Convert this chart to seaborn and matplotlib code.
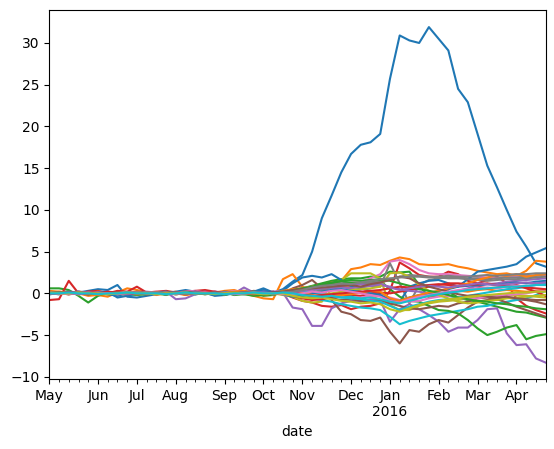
import pandas as pd
import matplotlib
matplotlib.use("Agg")
import matplotlib.pyplot as plt
import matplotlib.dates as mdates
from matplotlib.ticker import FixedLocator
import seaborn as sns

# weekly dates (week ending Sunday)
dates = pd.date_range("2015-05-03", "2016-04-24", freq="W-SUN")

# series values, one list per column
s00 = [0.0, 0.1, 0.2, 0.1, 0.3, 0.5, 0.4, 1.0, -0.4, -0.5,
       -0.3, -0.1, 0.1, 0.2, 0.4, 0.2, 0.1, -0.3, -0.2, 0.0,
       0.1, 0.2, 0.6, 0.1, 0.5, 1.4, 2.2, 5.0, 9.0, 11.7,
       14.5, 16.7, 17.8, 18.1, 19.1, 25.7, 30.9, 30.3, 30.0, 31.9,
       30.5, 29.1, 24.5, 22.9, 19.1, 15.3, 12.7, 10.0, 7.4, 5.6,
       3.6, 3.2]
s01 = [0.3, 0.2, 0.1, 0.0, -0.3, -0.2, -0.4, 0.1, 0.6, 0.4,
       0.1, -0.2, 0.0, 0.2, -0.2, 0.1, 0.2, 0.1, 0.3, 0.4,
       0.0, -0.3, -0.6, -0.7, 1.7, 2.3, 0.8, 0.3, 0.9, 1.2,
       1.5, 2.9, 3.1, 3.5, 3.4, 3.9, 4.3, 4.1, 3.5, 3.4,
       3.4, 3.5, 3.2, 3.0, 2.7, 2.5, 2.3, 2.4, 2.1, 2.7,
       3.9, 3.8]
s02 = [0.6, 0.6, 0.4, -0.3, -1.1, -0.3, 0.1, 0.0, -0.1, -0.2,
       -0.1, 0.0, -0.2, 0.1, 0.0, -0.1, 0.2, 0.0, -0.2, 0.1,
       0.3, 0.1, -0.3, -0.2, 0.1, 0.4, 0.6, 0.9, 1.2, 1.5,
       1.7, 1.8, 1.8, 2.0, 2.0, 2.6, 2.5, 2.6, 1.0, -0.5,
       -0.3, 0.2, -0.5, -0.8, -1.0, -1.3, -1.6, -1.9, -2.2, -2.3,
       -2.6, -2.9]
s03 = [-0.8, -0.7, 1.5, 0.0, 0.2, 0.3, 0.0, 0.3, 0.2, 0.8,
       0.1, 0.2, 0.3, 0.1, 0.2, 0.3, 0.4, 0.2, 0.0, -0.1,
       0.1, 0.0, 0.2, 0.1, 0.0, -0.5, -0.9, -1.1, -1.5, -1.6,
       -1.4, -1.9, -1.6, -1.5, -1.2, 0.3, 3.7, 3.0, 2.2, 2.0,
       2.0, 2.6, 2.3, 1.5, 1.2, 1.6, 2.0, 1.2, -0.6, -1.5,
       -2.0, -2.4]
s04 = [0.0, -0.1, 0.2, 0.1, 0.0, 0.1, 0.2, 0.0, -0.1, 0.1,
       0.2, 0.1, 0.2, -0.7, -0.6, -0.1, 0.0, 0.2, 0.1, 0.0,
       0.7, 0.1, -0.1, 0.0, 0.1, -1.7, -1.9, -3.9, -3.9, -1.8,
       -1.2, -0.9, -1.0, -0.7, -0.8, -3.4, -1.9, -1.3, -1.9, -2.6,
       -3.4, -4.6, -4.1, -4.1, -3.2, -1.9, -1.8, -4.8, -6.2, -6.1,
       -7.8, -8.3]
s05 = [0.1, 0.0, -0.1, 0.2, 0.1, 0.0, 0.1, -0.1, 0.0, 0.2,
       0.1, 0.0, -0.1, 0.1, 0.2, 0.0, 0.1, 0.0, 0.2, 0.1,
       0.0, 0.3, 0.2, 0.1, -0.1, 0.6, 1.0, 1.6, 0.6, -0.8,
       -2.2, -2.5, -3.2, -3.3, -2.9, -4.6, -6.0, -4.4, -4.6, -3.7,
       -3.2, -3.5, -2.6, -1.7, -1.0, -0.8, -0.6, -0.5, -0.7, -0.8,
       -1.0, -1.3]
s06 = [0.0, 0.1, 0.0, 0.2, 0.1, 0.0, -0.1, 0.1, 0.2, 0.0,
       0.1, 0.2, 0.0, 0.1, 0.2, 0.3, 0.1, 0.2, 0.1, 0.3,
       0.2, 0.1, 0.0, 0.2, 0.3, 0.4, 0.6, 0.8, 1.0, 1.2,
       1.1, 1.3, 1.4, 1.8, 2.3, 3.8, 4.0, 3.5, 2.8, 2.4,
       2.3, 2.3, 2.2, 2.1, 2.0, 1.9, 1.8, 2.0, 2.0, 2.1,
       2.1, 2.2]
s07 = [0.0, -0.1, 0.1, 0.0, 0.1, 0.0, 0.0, -0.1, 0.1, 0.0,
       -0.1, 0.0, 0.1, 0.0, -0.1, 0.0, 0.1, 0.0, -0.1, 0.0,
       0.1, 0.0, 0.0, 0.1, 0.0, -0.3, -0.4, 0.0, 0.3, 0.7,
       0.8, 0.8, 0.7, 0.9, 0.8, 3.6, 1.2, -1.2, 1.0, 1.6,
       1.8, 1.9, 1.9, 1.8, 1.8, 1.7, 1.8, 1.9, 1.9, 2.0,
       2.1, 2.3]
s08 = [0.1, 0.0, 0.1, -0.1, 0.0, 0.1, 0.0, 0.1, 0.0, -0.1,
       0.0, 0.1, -0.1, 0.0, 0.1, 0.0, -0.1, 0.1, 0.0, 0.1,
       0.0, 0.2, 0.1, 0.0, -0.2, -0.4, -0.9, -1.1, -1.0, 0.5,
       1.6, 2.4, 2.4, 2.4, 1.8, -1.4, -2.0, -2.0, -1.5, -1.2,
       -1.0, -0.9, -0.8, -0.6, -0.5, -0.4, -0.3, -0.3, -0.2, -0.3,
       -0.4, -0.5]
s09 = [-0.1, 0.0, 0.1, 0.0, -0.1, 0.0, 0.1, 0.0, -0.1, 0.0,
       0.1, 0.0, 0.0, 0.1, 0.0, -0.1, 0.0, 0.1, 0.0, -0.1,
       0.0, 0.1, 0.0, -0.1, 0.0, -0.2, -0.4, -0.6, -0.8, -1.0,
       -1.3, -1.5, -1.7, -1.8, -2.0, -2.8, -3.7, -3.3, -3.0, -2.7,
       -2.5, -2.3, -2.1, -1.9, -1.6, -1.5, -1.2, -1.0, -0.8, -0.6,
       -0.2, 0.3]
s10 = [0.2, 0.0, 0.1, 0.2, 0.0, 0.1, -0.1, -0.3, 0.0, 0.1,
       0.0, 0.1, 0.2, 0.0, 0.1, 0.2, 0.0, 0.1, 0.0, 0.1,
       0.0, 0.2, 0.4, 0.1, 0.3, 1.2, 1.9, 2.1, 1.9, 2.3,
       1.6, 0.8, 0.6, 0.3, 0.0, -0.8, -1.0, 0.8, 1.2, 1.5,
       1.6, 1.2, 0.8, 1.7, 2.6, 2.8, 3.0, 3.2, 3.5, 4.4,
       4.9, 5.4]
s11 = [0.0, 0.2, 0.1, -0.1, 0.0, 0.2, 0.1, 0.0, -0.2, 0.1,
       0.0, -0.1, 0.1, 0.0, -0.2, 0.0, 0.1, -0.1, 0.0, 0.2,
       0.3, 0.0, -0.2, 0.0, 0.3, 0.5, 0.6, 0.8, 1.0, 1.3,
       1.0, 0.6, 0.2, -0.3, -0.8, -1.3, -1.1, -0.8, -0.5, -0.3,
       -0.1, 0.1, 0.3, 0.2, 0.4, 0.5, 0.3, 0.4, 0.3, 0.2,
       0.3, 0.4]
s12 = [0.1, 0.0, -0.1, 0.0, 0.1, 0.0, -0.1, 0.0, 0.1, 0.0,
       -0.1, 0.0, 0.1, 0.0, 0.0, 0.1, -0.1, 0.0, 0.1, -0.2,
       -0.1, -0.3, -0.2, 0.1, 0.2, 0.3, 0.5, 0.7, 0.9, 1.2,
       1.4, 1.3, 1.2, 1.3, 1.5, 0.5, -0.4, -0.9, -1.0, -1.5,
       -2.0, -2.1, -2.4, -3.2, -4.2, -5.0, -4.6, -4.1, -3.8, -5.5,
       -5.1, -4.9]
s13 = [0.0, 0.1, -0.1, 0.0, 0.2, 0.1, 0.0, 0.1, -0.1, 0.0,
       0.1, 0.0, -0.1, 0.1, 0.0, 0.2, 0.1, 0.0, 0.1, 0.0,
       -0.1, 0.0, 0.1, 0.2, 0.0, -0.3, -0.6, -0.8, -0.7, -0.5,
       -0.4, -0.2, -0.3, 0.0, 0.1, 0.0, 0.2, 0.4, 0.6, 0.8,
       1.0, 1.2, 1.2, 1.1, 0.8, 0.6, 0.7, 0.8, 1.0, 0.6,
       0.2, -0.3]
s14 = [0.1, 0.0, 0.1, 0.2, 0.0, -0.1, 0.0, 0.1, 0.0, 0.1,
       0.0, -0.1, 0.0, 0.1, 0.0, 0.1, 0.2, 0.0, 0.1, 0.0,
       0.1, 0.0, 0.2, 0.1, 0.0, 0.3, 0.2, 0.4, 0.5, 0.6,
       0.7, 0.6, 0.8, 0.9, 1.0, 0.8, 0.5, 0.3, 0.2, 0.0,
       -0.2, 0.0, 0.3, 0.6, 0.9, 1.1, 1.2, 1.4, 1.5, 1.6,
       1.7, 1.8]
s15 = [-0.1, 0.0, 0.1, 0.0, -0.1, 0.0, 0.1, 0.0, 0.0, -0.1,
       0.0, 0.1, 0.0, -0.1, 0.0, 0.1, 0.0, 0.0, -0.1, 0.0,
       0.1, 0.0, -0.1, 0.0, 0.1, -0.2, -0.3, -0.5, -0.4, -0.6,
       -0.8, -0.7, -0.9, -1.0, -0.8, -1.2, -1.5, -1.8, -1.9, -1.7,
       -1.5, -1.6, -1.2, -1.0, -0.6, -0.5, -0.7, -1.1, -1.6, -2.0,
       -2.4, -2.8]
s16 = [0.0, 0.0, 0.1, -0.1, 0.0, 0.1, 0.0, -0.1, 0.0, 0.1,
       0.0, 0.1, 0.0, 0.0, 0.1, -0.1, 0.0, 0.1, 0.0, 0.0,
       0.1, 0.0, 0.0, -0.1, 0.1, 0.2, 0.3, 0.2, 0.0, -0.2,
       -0.4, -0.6, -0.5, -0.3, -0.2, -0.5, -0.8, -1.0, -0.9, -0.6,
       -0.4, -0.3, -0.5, -0.7, -0.6, -0.4, -0.3, -0.2, -0.1, 0.0,
       0.2, 0.3]
s17 = [0.1, 0.0, 0.0, 0.1, 0.0, -0.1, 0.0, 0.0, 0.1, 0.0,
       0.0, -0.1, 0.0, 0.1, 0.0, 0.0, -0.1, 0.0, 0.1, 0.0,
       0.0, 0.1, 0.0, -0.1, 0.0, -0.2, -0.1, 0.1, 0.4, 0.8,
       1.0, 1.1, 1.1, 1.3, 1.4, 1.6, 2.0, 2.2, 2.1, 2.0,
       1.9, 1.8, 1.8, 1.7, 1.6, 1.5, 1.6, 1.7, 1.7, 1.8,
       1.9, 2.0]
s18 = [0.0, 0.1, 0.0, -0.1, 0.0, 0.0, 0.1, 0.0, -0.1, 0.0,
       0.1, 0.0, 0.0, -0.1, 0.0, 0.1, 0.0, -0.1, 0.0, 0.1,
       0.0, -0.1, 0.0, 0.1, 0.0, -0.1, -0.3, -0.4, -0.2, 0.0,
       0.2, 0.4, 0.5, 0.6, 0.8, 2.4, 2.5, 2.0, 1.0, 0.3,
       -0.2, -0.6, -1.0, -1.2, -1.1, -0.9, -0.8, -0.6, -0.5, -0.4,
       -0.3, -0.2]
s19 = [0.0, -0.1, 0.0, 0.1, 0.0, -0.1, 0.0, 0.1, 0.0, 0.0,
       -0.1, 0.0, 0.1, 0.0, 0.0, -0.1, 0.0, 0.0, 0.1, 0.0,
       -0.1, 0.0, 0.1, 0.0, -0.1, 0.0, 0.2, 0.1, -0.1, -0.3,
       -0.5, -0.6, -0.7, -0.9, -1.0, -1.5, -2.0, -1.6, -1.3, -1.0,
       -0.8, -0.7, -0.5, -0.3, -0.1, 0.1, 0.3, 0.5, 0.6, 0.8,
       1.0, 1.2]
s20 = [-0.1, 0.0, 0.1, 0.0, -0.1, 0.1, 0.2, -0.5, -0.3, 0.0,
       0.0, 0.1, 0.0, -0.1, 0.0, 0.1, 0.0, -0.2, -0.1, 0.0,
       0.1, 0.0, 0.1, 0.2, -0.1, -0.4, -0.3, 0.0, 0.2, 0.4,
       0.5, 0.3, 0.2, 0.0, -0.2, -0.8, -0.9, -0.5, -0.2, 0.0,
       0.3, 0.5, 0.8, 0.9, 1.0, 1.1, 1.0, 1.2, 1.3, 1.2,
       1.4, 1.5]
s21 = [0.1, 0.0, -0.1, 0.1, 0.0, -0.2, 0.0, 0.1, 0.0, -0.1,
       0.0, 0.1, 0.0, -0.1, 0.0, 0.0, 0.1, 0.0, -0.1, 0.0,
       0.0, 0.1, 0.0, -0.1, 0.2, 0.3, 0.1, -0.2, -0.4, -0.3,
       -0.2, -0.1, 0.1, 0.3, 0.2, -0.6, -0.9, -0.5, -0.2, 0.1,
       0.3, 0.6, 0.9, 1.2, 1.6, 1.9, 2.2, 2.1, 2.3, 2.0,
       2.2, 2.3]
s22 = [0.0, 0.1, 0.0, 0.0, -0.1, 0.0, 0.1, 0.0, 0.0, 0.1,
       0.0, 0.0, -0.1, 0.0, 0.1, 0.0, 0.0, 0.1, 0.0, -0.1,
       0.0, 0.1, 0.0, 0.0, 0.1, 0.4, 0.6, 0.8, 1.1, 1.3,
       1.5, 1.6, 1.5, 1.6, 1.7, 1.5, 1.2, 0.9, 0.5, 0.3,
       0.1, -0.2, -0.5, -0.7, -0.9, -1.0, -1.2, -1.3, -1.5, -1.6,
       -1.8, -1.9]
s23 = [0.0, 0.0, 0.1, 0.0, -0.1, 0.0, 0.2, 0.1, 0.0, 0.0,
       -0.1, 0.0, 0.1, 0.0, -0.1, 0.0, 0.1, 0.2, 0.0, 0.1,
       0.0, -0.1, 0.0, 0.1, 0.0, 0.1, -0.1, -0.3, -0.2, -0.1,
       0.0, 0.1, 0.2, 0.3, 0.4, 0.6, 0.8, 0.7, 0.9, 1.0,
       1.1, 1.0, 0.9, 1.0, 1.1, 1.2, 1.0, 0.9, 0.8, 0.7,
       0.6, 0.5]
s24 = [0.1, 0.0, 0.0, -0.1, 0.0, 0.1, 0.0, 0.0, -0.1, 0.0,
       0.1, 0.0, -0.1, 0.0, 0.0, 0.1, 0.0, 0.0, 0.1, -0.1,
       0.0, 0.0, 0.1, 0.0, -0.1, 0.1, 0.3, 0.5, 0.6, 0.8,
       0.9, 1.0, 1.1, 0.9, 1.2, 0.7, 0.4, 0.6, 0.8, 0.9,
       0.8, 0.7, 0.9, 1.0, 1.2, 1.1, 1.0, 1.1, 1.2, 1.3,
       1.2, 1.3]
s25 = [0.0, 0.1, 0.0, 0.1, 0.0, -0.1, 0.0, 0.1, 0.0, 0.0,
       -0.1, 0.0, 0.0, 0.1, 0.0, -0.1, 0.0, 0.1, 0.0, 0.0,
       0.1, 0.0, -0.1, 0.0, 0.2, 0.4, 0.5, 0.6, 0.7, 0.8,
       0.9, 1.0, 0.8, 1.1, 1.3, 1.6, 2.0, 1.8, 1.2, 0.8,
       0.5, 0.2, -0.1, -0.3, -0.2, -0.4, -0.5, -0.4, -0.6, -0.7,
       -0.8, -0.8]
s26 = [0.0, 0.0, -0.1, 0.0, 0.1, 0.0, 0.0, -0.1, 0.0, 0.1,
       0.0, 0.0, 0.1, -0.1, 0.0, 0.0, 0.1, 0.0, 0.0, -0.1,
       0.0, 0.1, 0.0, 0.0, -0.1, -0.2, 0.0, 0.2, 0.1, 0.3,
       0.4, 0.2, 0.0, -0.2, -0.4, -0.9, -1.1, -0.7, -0.4, -0.2,
       0.0, 0.2, 0.4, 0.5, 0.6, 0.7, 0.6, 0.8, 0.9, 0.9,
       1.0, 1.0]
s27 = [0.0, 0.1, 0.0, 0.0, 0.1, 0.0, -0.1, 0.0, 0.0, 0.1,
       0.0, 0.0, 0.1, 0.0, -0.1, 0.0, 0.0, 0.1, 0.0, 0.0,
       0.1, 0.0, 0.0, -0.1, 0.1, 0.2, 0.4, 0.7, 0.9, 1.0,
       1.2, 1.1, 1.3, 1.5, 1.7, 1.8, 1.9, 2.0, 2.0, 1.9,
       2.0, 2.1, 2.0, 2.0, 2.1, 2.2, 2.1, 2.2, 2.3, 2.3,
       2.4, 2.4]
s28 = [0.1, 0.0, 0.0, 0.1, 0.0, 0.0, -0.1, 0.0, 0.1, 0.0,
       0.0, -0.1, 0.0, 0.0, 0.1, 0.0, 0.0, -0.1, 0.0, 0.1,
       0.0, 0.0, -0.1, 0.0, 0.0, -0.3, -0.5, -0.6, -0.5, -0.7,
       -0.9, -1.0, -1.2, -1.1, -1.3, -1.9, -2.2, -1.8, -1.4, -1.1,
       -0.9, -0.7, -0.6, -0.4, -0.3, -0.2, -0.1, 0.0, 0.1, 0.1,
       0.2, 0.2]
s29 = [0.0, 0.0, 0.1, 0.0, 0.0, -0.1, 0.0, 0.0, 0.1, 0.0,
       0.0, 0.0, -0.1, 0.0, 0.1, 0.0, 0.0, 0.0, -0.1, 0.0,
       0.0, 0.1, 0.0, 0.0, 0.1, 0.0, -0.2, -0.3, -0.4, -0.3,
       -0.5, -0.4, -0.6, -0.5, -0.7, -1.0, -1.2, -0.9, -0.6, -0.3,
       -0.1, 0.1, 0.2, 0.4, 0.5, 0.6, 0.7, 0.8, 0.8, 0.9,
       1.0, 1.0]

series = [s00, s01, s02, s03, s04, s05, s06, s07, s08, s09,
          s10, s11, s12, s13, s14, s15, s16, s17, s18, s19,
          s20, s21, s22, s23, s24, s25, s26, s27, s28, s29]
names = [f"s{i:02d}" for i in range(len(series))]

# long form table for seaborn
frames = []
for name, vals in zip(names, series):
    frames.append(pd.DataFrame({"date": dates, "value": vals, "series": name}))
df = pd.concat(frames, ignore_index=True)

tab10 = sns.color_palette("tab10", 10)
palette = [tab10[i % 10] for i in range(len(names))]

fig = plt.figure(figsize=(5.54, 4.49), dpi=100)
ax = fig.add_axes([0.089, 0.155, 0.896, 0.822])

sns.lineplot(data=df, x="date", y="value", hue="series", palette=palette,
             hue_order=names, estimator=None, sort=False, legend=False,
             linewidth=1.5, ax=ax)

# pandas-like weekly period axis: major tick at the week holding the 1st of each month
months = dates.to_series().dt.month
starts = dates[(months != months.shift()).values]
labels = [d.strftime("%b") + ("\n" + d.strftime("%Y") if d.month == 1 else "")
          for d in starts]
ax.xaxis.set_major_locator(FixedLocator(mdates.date2num(starts)))
ax.xaxis.set_major_formatter(plt.FixedFormatter(labels))
ax.xaxis.set_minor_locator(FixedLocator(mdates.date2num(dates)))
ax.set_xlim(dates[0], dates[-1])

ax.set_xlabel("date")
ax.set_ylabel("")

fig.savefig("out.png", dpi=100)
